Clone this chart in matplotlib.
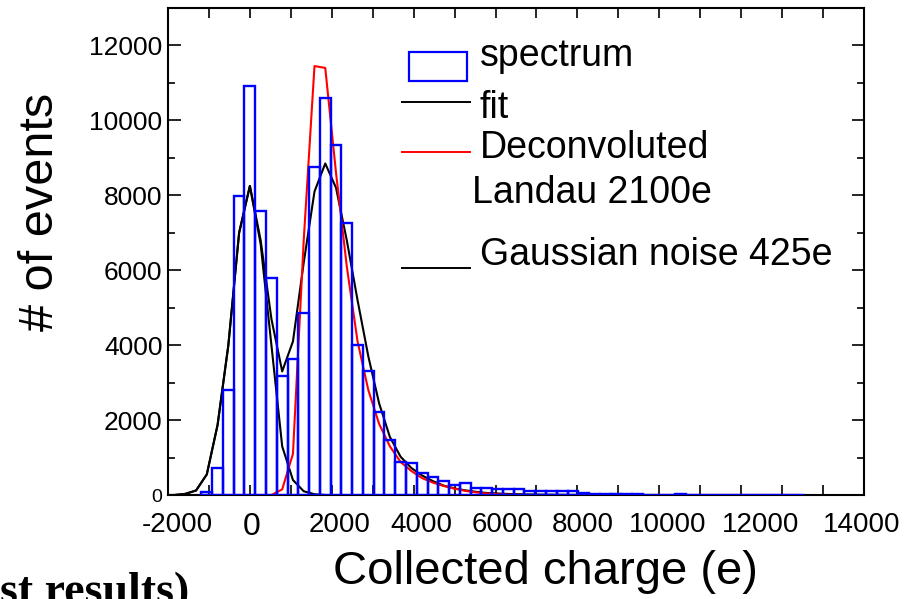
import numpy as np
import matplotlib
matplotlib.use('Agg')
import matplotlib.pyplot as plt
from matplotlib.lines import Line2D
from matplotlib.patches import Rectangle

plt.rcParams['font.family'] = 'Liberation Sans'

# histogram bin width (e) and bin index range
bin_width = 263
bin_index = np.arange(-4, 52)
counts = [80, 710, 2790, 7980, 10910, 7570, 5790, 3170, 3640, 4850,
          8750, 10590, 9340, 7250, 4010, 3310, 2210, 1470, 890, 850,
          580, 470, 370, 270, 320, 200, 200, 150, 150, 150,
          95, 95, 95, 95, 95, 45, 30, 30, 30, 30,
          30, 10, 10, 10, 40, 10, 10, 10, 10, 10,
          10, 10, 10, 10, 10, 10]

# curves, sampled at bin centres
curve_index = np.arange(-8, 52)
fit_values = [0, 0, 30, 120, 550, 1870, 4000, 7000, 8250, 6800,
              4700, 3300, 4100, 6200, 8100, 8850, 8200, 6800, 5200, 3700,
              2450, 1550, 1020, 720, 520, 370, 250, 175, 125, 85,
              55, 40, 28, 20, 15, 10, 8, 5, 3, 2,
              0, 0, 0, 0, 0, 0, 0, 0, 0, 0,
              0, 0, 0, 0, 0, 0, 0, 0, 0, 0]
landau_values = [0, 0, 0, 0, 0, 0, 0, 0, 0, 0,
                 0, 150, 1100, 6800, 11450, 11400, 8600, 6100, 4100, 2800,
                 1900, 1300, 880, 640, 450, 330, 240, 170, 110, 70,
                 40, 20, 10, 5, 0, 0, 0, 0, 0, 0,
                 0, 0, 0, 0, 0, 0, 0, 0, 0, 0,
                 0, 0, 0, 0, 0, 0, 0, 0, 0, 0]
gauss_index = np.arange(-8, 8)
gauss_values = [0, 0, 30, 120, 550, 1870, 4000, 7000, 8250, 6700,
                4000, 1300, 400, 100, 20, 0]

xtick_pos = [-1780, 40, 2200, 4200, 6160, 8140, 10210, 12480, 14950]
xtick_labels = ['-2000', '0', '2000', '4000', '6000', '8000', '10000', '12000', '14000']
ytick_pos = [0, 2000, 4000, 6000, 8000, 10000, 12000]

fig = plt.figure(figsize=(9.1, 5.99), dpi=100)
W, H = 910, 599
ax = fig.add_axes([168 / W, 1 - 495 / H, 696 / W, 487 / H])

ax.plot(curve_index * bin_width, fit_values, color='black', lw=1.5, zorder=2)
ax.plot(gauss_index * bin_width, gauss_values, color='black', lw=1.5, zorder=2)
ax.plot(curve_index * bin_width, landau_values, color='#ff0000', lw=1.5, zorder=2)
ax.bar(bin_index * bin_width, counts, width=bin_width, fill=False,
       edgecolor='#0000ff', linewidth=1.7, zorder=3)

ax.set_xlim(-2000, 15000)
ax.set_ylim(0, 13000)

ax.set_xticks(xtick_pos, xtick_labels)
ax.set_xticks(np.arange(-2000, 15001, 1000), minor=True)
ax.tick_params(axis='x', which='major', length=0, pad=12, labelsize=20)
ax.tick_params(axis='x', which='minor', direction='in', length=7, width=1.2,
               top=True, bottom=True)
ax.get_xticklabels()[1].set_fontsize(23)

ax.set_yticks(ytick_pos, [str(v) for v in ytick_pos])
ax.set_yticks(np.arange(0, 13001, 1000), minor=True)
ax.tick_params(axis='y', which='major', direction='in', length=9, width=1.2,
               pad=4, labelsize=19, left=True, right=True)
ax.tick_params(axis='y', which='minor', direction='in', length=5, width=1.2,
               left=True, right=True)
ax.get_yticklabels()[0].set_fontsize(14)
for s in ax.spines.values():
    s.set_linewidth(1.5)

ax.set_xlabel('Collected charge (e)', fontsize=34)
ax.xaxis.set_label_coords((545 - 168) / 696, (495 - 550) / 487)
fig.text(41 / W, 1 - 212 / H, '# of events', rotation=90, fontsize=35,
         ha='center', va='center')

# legend, laid out by hand like the original
def px(x, y):
    return (x - 168) / 696, (495 - y) / 487

ax.add_patch(Rectangle(px(409, 81), 58 / 696, 29 / 487, transform=ax.transAxes,
                       fill=False, edgecolor='#0000ff', lw=1.6, clip_on=False))
for yy, col in [(102, 'black'), (152, '#ff0000'), (268, 'black')]:
    x0, y0 = px(402, yy)
    x1, _ = px(470, yy)
    ax.add_line(Line2D([x0, x1], [y0, y0], transform=ax.transAxes,
                       color=col, lw=1.4))
for x, y, s in [(480, 66, 'spectrum'), (480, 118, 'fit'),
                (480, 158, 'Deconvoluted'), (472, 203, 'Landau 2100e'),
                (480, 265, 'Gaussian noise 425e')]:
    tx, ty = px(x, y)
    ax.text(tx, ty, s, transform=ax.transAxes, fontsize=27,
            ha='left', va='baseline')

# fragment of the page text below the figure, cut by the image edge
fig.text(0, 1 - 604 / H, 'st results)', fontsize=33, fontweight='bold',
         family='Liberation Serif', ha='left', va='baseline')

fig.savefig('out.png', dpi=100)
